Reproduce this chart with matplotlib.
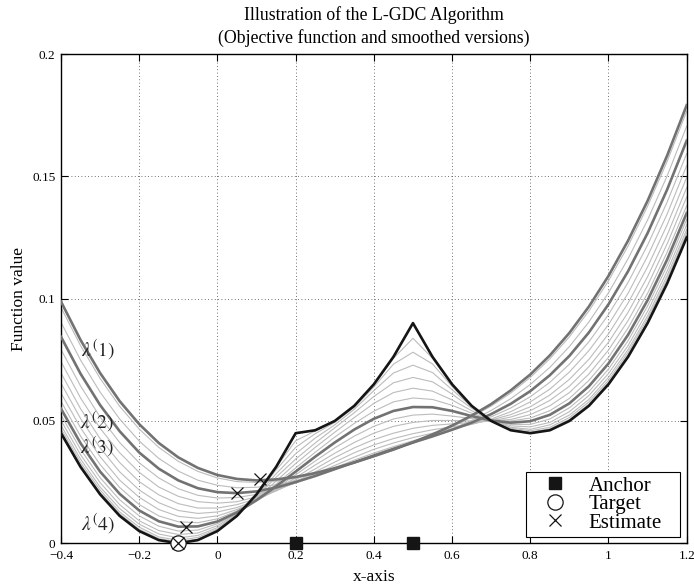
import numpy as np
import matplotlib
matplotlib.use('Agg')
import matplotlib.pyplot as plt

# sample positions along the x-axis
x_vals = [-0.4, -0.35, -0.3, -0.25, -0.2, -0.15, -0.1, -0.05, 0.0, 0.05, 0.1, 0.15, 0.2, 0.25, 0.3,
          0.35, 0.4, 0.45, 0.5, 0.55, 0.6, 0.65, 0.7, 0.75, 0.8, 0.85, 0.9, 0.95, 1.0, 1.05, 1.1,
          1.15, 1.2]

# objective function (black)
objective = [0.045, 0.0312, 0.02, 0.0112, 0.005, 0.0013, 0.0, 0.0013, 0.005, 0.0112, 0.02, 0.0312,
             0.045, 0.0462, 0.05, 0.0562, 0.065, 0.0762, 0.09, 0.0762, 0.065, 0.0562, 0.05, 0.0462,
             0.045, 0.0462, 0.05, 0.0562, 0.065, 0.0762, 0.09, 0.1062, 0.125]

# smoothed versions, values x 1e-4
# thick curves (lambda stages)
lam1 = [988, 831, 696, 581, 487, 410, 351, 308, 279, 263, 257, 261, 271, 287, 307, 330, 356, 383, 413,
        445, 481, 522, 569, 625, 690, 768, 860, 968, 1093, 1237, 1400, 1585, 1791]
lam2 = [844, 693, 565, 458, 371, 305, 257, 225, 209, 205, 212, 228, 250, 275, 303, 331, 359, 386, 412,
        437, 464, 493, 528, 570, 622, 687, 766, 862, 977, 1112, 1268, 1446, 1646]
lam3 = [550, 409, 293, 202, 134, 90, 68, 69, 89, 126, 176, 233, 293, 354, 412, 465, 509, 541, 557,
        556, 541, 520, 502, 493, 499, 525, 572, 642, 735, 852, 994, 1160, 1350]

# thin intermediate curves
thin01 = [452, 314, 202, 114, 52, 14, 1, 14, 51, 113, 200, 310, 419, 459, 499, 561, 647, 756, 838, 756,
          648, 562, 500, 463, 451, 464, 501, 564, 652, 764, 902, 1064, 1252]
thin02 = [458, 320, 208, 120, 57, 19, 6, 17, 54, 114, 198, 300, 392, 448, 494, 556, 639, 732, 781, 733,
          641, 560, 501, 466, 454, 468, 506, 569, 657, 770, 908, 1070, 1258]
thin03 = [468, 330, 218, 128, 66, 26, 12, 24, 58, 116, 194, 284, 366, 430, 484, 548, 624, 696, 728, 698,
          628, 558, 502, 470, 460, 474, 514, 578, 666, 780, 918, 1080, 1268]
thin04 = [482, 344, 230, 142, 78, 38, 22, 32, 64, 118, 190, 270, 344, 410, 472, 534, 600, 656, 678, 660,
          610, 552, 504, 474, 466, 484, 524, 588, 678, 792, 930, 1094, 1282]
thin05 = [502, 362, 248, 158, 92, 52, 36, 42, 72, 120, 184, 254, 326, 392, 454, 514, 572, 616, 634, 622,
          586, 542, 504, 480, 476, 494, 538, 604, 694, 808, 948, 1112, 1302]
thin06 = [524, 384, 268, 178, 112, 70, 50, 54, 80, 122, 178, 242, 308, 372, 434, 490, 540, 578, 594, 588,
          564, 532, 502, 486, 486, 508, 554, 620, 712, 828, 970, 1134, 1324]
thin08 = [580, 438, 322, 228, 158, 112, 88, 84, 100, 132, 174, 224, 280, 336, 390, 438, 478, 508, 524, 528,
          520, 510, 500, 500, 512, 542, 592, 666, 760, 880, 1022, 1190, 1380]
thin09 = [614, 472, 354, 258, 188, 138, 110, 102, 112, 138, 174, 220, 268, 320, 368, 412, 450, 478, 494,
          502, 502, 500, 500, 506, 526, 562, 616, 692, 790, 910, 1054, 1224, 1416]
thin10 = [654, 510, 390, 292, 218, 166, 134, 122, 128, 146, 176, 216, 260, 304, 350, 390, 424, 450, 470,
          482, 488, 494, 500, 516, 542, 584, 642, 722, 822, 944, 1090, 1260, 1454]
thin11 = [696, 550, 428, 330, 252, 198, 162, 144, 144, 158, 182, 214, 252, 292, 332, 370, 402, 428, 448,
          464, 476, 488, 504, 526, 558, 606, 670, 752, 856, 982, 1130, 1302, 1496]
thin12 = [742, 594, 470, 370, 290, 230, 192, 170, 164, 170, 190, 216, 248, 284, 318, 352, 384, 410, 432,
          450, 468, 486, 508, 538, 578, 630, 700, 788, 894, 1022, 1174, 1346, 1544]
thin13 = [792, 643, 516, 412, 329, 267, 223, 196, 185, 187, 200, 220, 247, 277, 309, 340, 369, 395, 419,
          442, 464, 488, 517, 553, 599, 658, 732, 824, 935, 1066, 1219, 1395, 1593]
thin15 = [903, 749, 618, 508, 418, 347, 295, 258, 237, 227, 229, 239, 256, 277, 302, 328, 354, 381, 409,
          437, 468, 502, 543, 591, 649, 719, 804, 905, 1024, 1163, 1322, 1502, 1705]
thin16 = [964, 808, 674, 560, 467, 392, 335, 294, 267, 252, 249, 254, 266, 283, 305, 329, 354, 382, 411,
          442, 476, 516, 561, 614, 678, 754, 844, 950, 1073, 1215, 1378, 1561, 1766]

anchor_x = [0.2, 0.5]
target_x = [-0.1]
est_x = [0.109, 0.05, -0.081, -0.1]
est_y = [0.0262, 0.0206, 0.0067, 0.0]

lab_text = [r'$\lambda^{(}1)$', r'$\lambda^{(}2)$', r'$\lambda^{(}3)$', r'$\lambda^{(}4)$']
lab_x = [-0.305, -0.309, -0.309, -0.305]
lab_y = [0.079, 0.0496, 0.0394, 0.008]

xticks = [-0.4, -0.2, 0, 0.2, 0.4, 0.6, 0.8, 1.0, 1.2]
xtick_labels = ['\u22120.4', '\u22120.2', '0', '0.2', '0.4', '0.6', '0.8', '1', '1.2']
yticks = [0, 0.05, 0.1, 0.15, 0.2]
ytick_labels = ['0', '0.05', '0.1', '0.15', '0.2']

plt.rcParams['font.family'] = 'Liberation Serif'
plt.rcParams['mathtext.fontset'] = 'stix'

fig, ax = plt.subplots(figsize=(6.94, 5.86), dpi=100)
fig.subplots_adjust(left=0.0879, right=0.9895, bottom=0.0729, top=0.9078)

for row in [thin01, thin02, thin03, thin04, thin05, thin06, thin08, thin09, thin10, thin11, thin12,
            thin13, thin15, thin16]:
    ax.plot(x_vals, np.array(row) / 1e4, color='#bcbcbc', lw=0.8, zorder=2)
for row in [lam1, lam2, lam3]:
    ax.plot(x_vals, np.array(row) / 1e4, color='#727272', lw=1.9, zorder=3)
ax.plot(x_vals, objective, color='#151515', lw=1.9, zorder=4)

ax.plot(anchor_x, [0] * len(anchor_x), 's', color='#151515', ms=8, clip_on=False, zorder=6,
        label='Anchor')
ax.plot(target_x, [0], 'o', mfc='white', mec='#151515', ms=11, mew=0.9, clip_on=False, zorder=6,
        label='Target')
ax.plot(est_x, est_y, 'x', color='#151515', ms=8, mew=0.9, clip_on=False, zorder=7, label='Estimate')

for t, tx, ty in zip(lab_text, lab_x, lab_y):
    ax.text(tx, ty, t, fontsize=14, ha='center', va='center', color='#222222')

ax.set_xlim(-0.4, 1.2)
ax.set_ylim(0, 0.2)
ax.set_xticks(xticks)
ax.set_xticklabels(xtick_labels)
ax.set_yticks(yticks)
ax.set_yticklabels(ytick_labels)
ax.tick_params(direction='in', length=5, width=0.8, labelsize=9.5, top=True, right=True)
ax.tick_params(axis='x', pad=5)
ax.tick_params(axis='y', pad=4)
ax.grid(True, ls=(0, (1, 3)), color='#444444', lw=0.6)
for sp in ax.spines.values():
    sp.set_linewidth(1.0)

ax.set_xlabel('x-axis', fontsize=12.5, labelpad=5)
ax.set_ylabel('Function value', fontsize=12.5, labelpad=4)
ax.set_title('Illustration of the L-GDC Algorithm\n(Objective function and smoothed versions)',
             fontsize=12.8, pad=8, linespacing=1.35)

leg = ax.legend(loc='lower left', bbox_to_anchor=(0.743, 0.013, 0.246, 0.131), mode='expand',
                borderaxespad=0, fontsize=15, frameon=True, fancybox=False, edgecolor='black',
                framealpha=1, handlelength=2.4, handletextpad=0.4, labelspacing=-0.05,
                borderpad=0.2, numpoints=1)
leg.get_frame().set_linewidth(0.8)

fig.savefig('out.png', dpi=100)
